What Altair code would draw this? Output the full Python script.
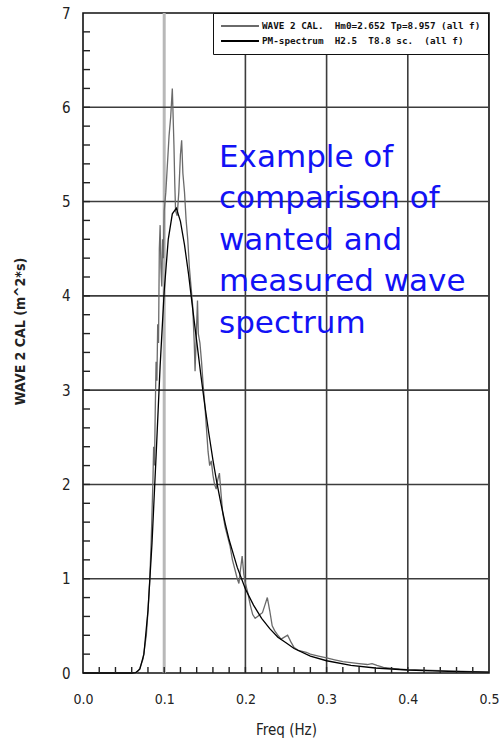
import altair as alt
import pandas as pd

# ---------------- data ----------------
NB = "\u00a0"
MEAS_NAME = "WAVE 2 CAL." + NB + " Hm0=2.652 Tp=8.957 (all f)"
PM_NAME = "PM-spectrum" + NB + " H2.5" + NB + " T8.8 sc." + NB + " (all f)"

meas_f = [0.0, 0.02, 0.04, 0.06, 0.066, 0.070, 0.074, 0.078, 0.080, 0.082, 0.084, 0.086,
          0.087, 0.088, 0.089, 0.090, 0.091, 0.092, 0.093, 0.094, 0.095, 0.096, 0.097,
          0.098, 0.099, 0.100, 0.102, 0.104, 0.106, 0.108, 0.110, 0.111, 0.112, 0.113,
          0.114, 0.116, 0.118, 0.120, 0.1215, 0.123, 0.125, 0.127, 0.129, 0.131, 0.133,
          0.135, 0.137, 0.138, 0.140, 0.141, 0.142, 0.144, 0.146, 0.148, 0.150, 0.152,
          0.154, 0.156, 0.158, 0.160, 0.162, 0.164, 0.166, 0.168, 0.170, 0.172, 0.175,
          0.178, 0.181, 0.184, 0.187, 0.190, 0.192, 0.194, 0.196, 0.198, 0.200, 0.203,
          0.206, 0.209, 0.212, 0.215, 0.218, 0.221, 0.224, 0.227, 0.230, 0.233, 0.236,
          0.240, 0.244, 0.248, 0.252, 0.256, 0.260, 0.265, 0.270, 0.275, 0.280, 0.290,
          0.300, 0.310, 0.320, 0.330, 0.340, 0.350, 0.356, 0.362, 0.370, 0.380, 0.390,
          0.400, 0.420, 0.440, 0.460, 0.480, 0.500]
meas_s = [0.0, 0.0, 0.0, 0.0, 0.0, 0.05, 0.15, 0.40, 0.65, 0.95, 1.40, 2.00,
          2.40, 2.20, 2.80, 3.30, 3.10, 3.70, 3.50, 4.50, 4.75, 4.30, 4.10,
          4.60, 4.40, 4.90, 5.10, 5.40, 5.70, 5.90, 6.20, 5.90, 5.60, 5.20,
          4.90, 4.85, 5.10, 5.50, 5.65, 5.30, 5.10, 4.80, 4.60, 4.30, 4.10,
          3.90, 3.50, 3.20, 3.70, 3.95, 3.60, 3.50, 3.30, 3.05, 2.85, 2.60,
          2.35, 2.20, 2.25, 2.10, 2.00, 1.95, 2.05, 2.12, 1.90, 1.70, 1.55,
          1.45, 1.35, 1.20, 1.10, 1.00, 0.95, 1.10, 1.24, 1.05, 0.95, 0.85,
          0.72, 0.62, 0.58, 0.60, 0.62, 0.64, 0.72, 0.80, 0.66, 0.50, 0.45,
          0.40, 0.36, 0.38, 0.40, 0.33, 0.27, 0.24, 0.23, 0.22, 0.20, 0.18,
          0.16, 0.14, 0.12, 0.11, 0.10, 0.09, 0.10, 0.08, 0.06, 0.05, 0.04,
          0.035, 0.03, 0.025, 0.02, 0.015, 0.01]

pm_f = [0.0, 0.03, 0.06, 0.065, 0.070, 0.075, 0.080, 0.085, 0.090, 0.095, 0.100,
        0.105, 0.110, 0.115, 0.120, 0.125, 0.130, 0.135, 0.140, 0.145, 0.150, 0.155,
        0.160, 0.165, 0.170, 0.175, 0.180, 0.190, 0.200, 0.210, 0.220, 0.230, 0.240,
        0.250, 0.260, 0.280, 0.300, 0.330, 0.360, 0.400, 0.450, 0.500]
pm_s = [0.0, 0.0, 0.0, 0.005, 0.04, 0.20, 0.66, 1.38, 2.30, 3.26, 4.05,
        4.60, 4.87, 4.93, 4.79, 4.54, 4.23, 3.87, 3.52, 3.17, 2.84, 2.54,
        2.26, 2.01, 1.79, 1.59, 1.41, 1.12, 0.89, 0.72, 0.58, 0.47, 0.38,
        0.32, 0.26, 0.18, 0.13, 0.08, 0.053, 0.032, 0.018, 0.010]

x_ticks = [0.0, 0.1, 0.2, 0.3, 0.4, 0.5]
y_ticks = [0, 1, 2, 3, 4, 5, 6, 7]
grid_dark_x = [0.2, 0.3, 0.4]
grid_light_x = [0.1]
grid_y = [1, 2, 3, 4, 5, 6]
minor_x = [round(0.02 * i, 2) for i in range(1, 25)]
minor_y = [round(0.2 * i, 1) for i in range(1, 35)]

note_lines = ["Example of", "comparison of", "wanted and", "measured wave", "spectrum"]

# ---------------- tables ----------------
lines_df = pd.concat([
    pd.DataFrame({"f": meas_f, "S": meas_s, "series": MEAS_NAME, "order": 0}),
    pd.DataFrame({"f": pm_f, "S": pm_s, "series": PM_NAME, "order": 1}),
])

W, H = 406, 660
COND = "DejaVu Sans Condensed"

xscale = alt.Scale(domain=[0, 0.5], nice=False, zero=False)
yscale = alt.Scale(domain=[0, 7], nice=False)

xaxis = alt.Axis(values=x_ticks, format=".1f", title="Freq (Hz)", grid=False,
                 domain=False, ticks=False, labelFont=COND, labelFontSize=14,
                 labelColor="#222", labelPadding=19, labelFlush=False, labelOverlap=False,
                 titleFont=COND, titleFontSize=15, titleFontWeight="normal",
                 titleColor="#222", titlePadding=16)
yaxis = alt.Axis(values=y_ticks, format="d", title="WAVE 2 CAL (m^2*s)", grid=False,
                 domain=False, ticks=False, labelFont=COND, labelFontSize=15,
                 labelColor="#222", labelPadding=13, labelFlush=False, labelOverlap=False,
                 titleFont=COND, titleFontSize=14, titleFontWeight="bold",
                 titleColor="#222", titleX=-63, titleY=318, titleAngle=270,
                 titleBaseline="middle", titleAlign="center")

X = lambda field="f": alt.X(field, type="quantitative", scale=xscale, axis=xaxis)
Y = lambda field="S": alt.Y(field, type="quantitative", scale=yscale, axis=yaxis)

grid_h = alt.Chart(pd.DataFrame({"S": grid_y})).mark_rule(
    color="#3c3c3c", strokeWidth=1.6).encode(y=Y())
grid_v = alt.Chart(pd.DataFrame({"f": grid_dark_x})).mark_rule(
    color="#3c3c3c", strokeWidth=1.6).encode(x=X())
grid_v_light = alt.Chart(pd.DataFrame({"f": grid_light_x})).mark_rule(
    color="#b8b8b8", strokeWidth=3).encode(x=X())

ticks_y = alt.Chart(pd.DataFrame({"S": minor_y})).mark_rule(
    color="#222", strokeWidth=1.4).encode(y=Y(), x=alt.value(0), x2=alt.value(7))
ticks_x = alt.Chart(pd.DataFrame({"f": minor_x})).mark_rule(
    color="#222", strokeWidth=1.4).encode(x=X(), y=alt.value(H), y2=alt.value(H - 6))

note = alt.Chart(pd.DataFrame({"t": [0]})).mark_text(
    font="DejaVu Sans", fontSize=31, color="#1212f5", align="left",
    baseline="alphabetic", lineHeight=41.6
).encode(x=alt.value(136), y=alt.value(153.5), text=alt.value(note_lines))

# wide flat legend symbol: path spans +-4 units, unit = sqrt(size)/2
SYM_SIZE = 90

curves = alt.Chart(lines_df).mark_line(strokeWidth=1.3, interpolate="linear").encode(
    x=X(), y=Y(),
    color=alt.Color(
        "series:N",
        scale=alt.Scale(domain=[MEAS_NAME, PM_NAME], range=["#6a6a6a", "#000000"]),
        legend=alt.Legend(title=None, orient="none", legendX=130, legendY=0,
                          direction="vertical", symbolType="M-4,0H4",
                          symbolSize=SYM_SIZE, symbolStrokeWidth=1.8,
                          symbolOffset=14, labelOffset=16,
                          labelFont="DejaVu Sans Mono",
                          labelFontSize=9.3, labelFontWeight="bold",
                          labelColor="#111", labelLimit=400,
                          padding=7, rowPadding=3, strokeColor="#111",
                          fillColor="white"),
    ),
    order="order:Q",
)

chart = alt.layer(
    grid_v_light, grid_h, grid_v, note, curves, ticks_y, ticks_x
).properties(
    width=W, height=H,
    autosize=alt.AutoSizeParams(type="none"),
    padding={"left": 83, "top": 13, "right": 11, "bottom": 74},
    background="white",
).configure_view(stroke="#111", strokeWidth=1.6)

chart.save("out.html", embed_options={"renderer": "svg", "actions": False})
